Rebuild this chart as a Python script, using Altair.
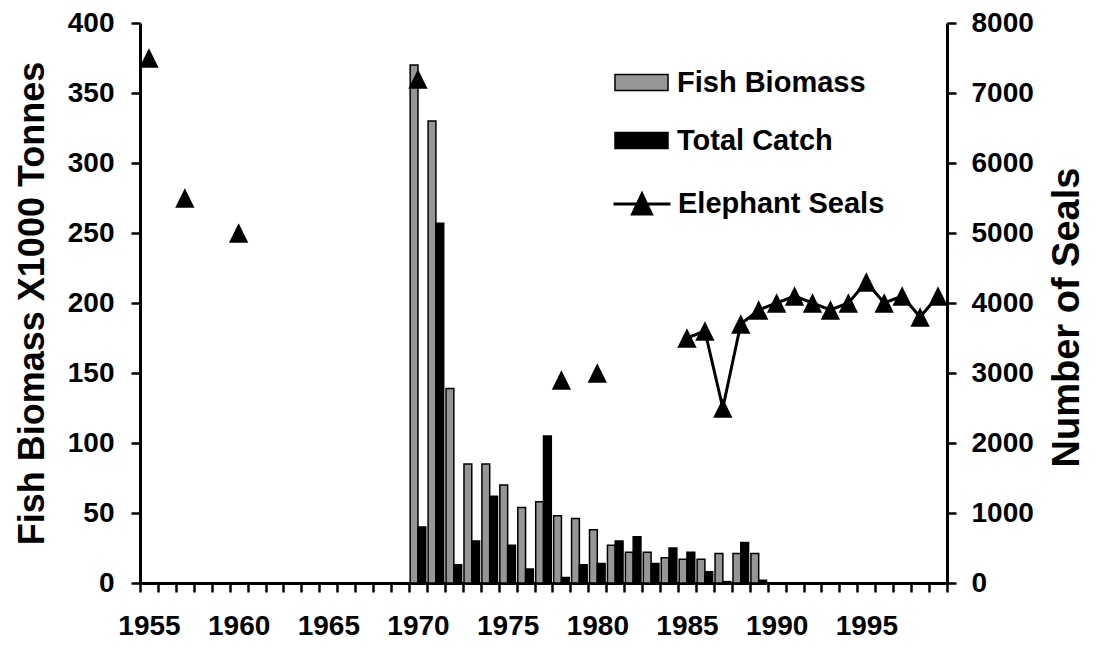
import altair as alt
import pandas as pd

# ---- data ----
all_years = list(range(1955, 2000))

fish_years = list(range(1970, 1990))
fish_biomass = [370, 330, 139, 85, 85, 70, 54, 58, 48, 46, 38, 27, 22, 22, 18, 17, 17, 21, 21, 21]
total_catch = [40, 257, 13, 30, 62, 27, 10, 105, 4, 13, 14, 30, 33, 14, 25, 22, 8, 1, 29, 2]

seal_years = [1955, 1957, 1960, 1970, 1978, 1980, 1985, 1986, 1987, 1988, 1989,
              1990, 1991, 1992, 1993, 1994, 1995, 1996, 1997, 1998, 1999]
seal_counts = [7500, 5500, 5000, 7200, 2900, 3000, 3500, 3600, 2500, 3700, 3900,
               4000, 4100, 4000, 3900, 4000, 4300, 4000, 4100, 3800, 4100]

left_ticks = [0, 50, 100, 150, 200, 250, 300, 350, 400]
right_ticks = [0, 1000, 2000, 3000, 4000, 5000, 6000, 7000, 8000]

bar_series = ["Fish Biomass", "Total Catch"]
bar_colors = ["#969696", "#000000"]
seal_series = ["Elephant Seals"]

fish_df = pd.DataFrame({"year": fish_years, "Fish Biomass": fish_biomass, "Total Catch": total_catch})
seal_df = pd.DataFrame({"year": seal_years, "seals": seal_counts})

FONT = "Liberation Sans"

x_axis = alt.Axis(
    title=None, labelAngle=0, tickBand="extent",
    labelExpr="datum.value % 5 == 0 ? datum.label : ''",
    labelFontSize=28, labelPadding=20, tickSize=9, tickWidth=2.5,
    domainWidth=3, domainColor="black", tickColor="black",
)
x_enc = alt.X("year:O", scale=alt.Scale(domain=all_years, paddingInner=0, paddingOuter=0), axis=x_axis)

bar_legend = alt.Legend(
    title=None, orient="none", legendX=472, legendY=30,
    symbolType="M-0.93,-0.28H0.93V0.28H-0.93Z", symbolSize=3249,
    symbolStrokeColor="black", symbolStrokeWidth=1.5, symbolOpacity=1,
    labelFontSize=29, labelFont=FONT, labelFontWeight="bold", labelLimit=400,
    labelColor="black", labelOffset=6, rowPadding=13, padding=0,
)
seal_legend = alt.Legend(
    title=None, orient="none", legendX=472, legendY=151,
    symbolType="M-1,0H1M0,-0.35L0.33,0.35L-0.33,0.35Z", symbolSize=3249,
    symbolStrokeColor="black", symbolFillColor="black", symbolStrokeWidth=3, symbolOpacity=1,
    labelFontSize=29, labelFont=FONT, labelFontWeight="bold", labelLimit=400,
    labelColor="black", labelOffset=6, padding=0,
)

bars = alt.Chart(fish_df).transform_fold(
    bar_series, as_=["series", "value"]
).mark_bar(stroke="black", strokeWidth=1.5).encode(
    x=x_enc,
    xOffset=alt.XOffset("series:N", scale=alt.Scale(domain=bar_series, paddingOuter=0.15, paddingInner=0)),
    y=alt.Y("value:Q", scale=alt.Scale(domain=[0, 400], nice=False),
            axis=alt.Axis(values=left_ticks, title="Fish Biomass X1000 Tonnes", titleFontSize=36,
                          titleAngle=270, titleBaseline="alphabetic", titleX=-97, titleY=280,
                          titleAlign="center",
                          labelFontSize=28, labelPadding=17, tickSize=9, tickWidth=2.5,
                          domainWidth=3, grid=False)),
    color=alt.Color("series:N", scale=alt.Scale(domain=bar_series, range=bar_colors), legend=bar_legend),
)

seal_base = alt.Chart(seal_df).transform_calculate(series="'Elephant Seals'")
seal_y = alt.Y("seals:Q", scale=alt.Scale(domain=[0, 8000], nice=False),
               axis=alt.Axis(orient="right", values=right_ticks, format="d", title="Number of Seals",
                             titleFontSize=38, titleAngle=270, titleBaseline="alphabetic",
                             titleX=131, titleY=294, titleAlign="center",
                             labelFontSize=28, labelPadding=15, tickSize=9, tickWidth=2.5,
                             domainWidth=3, grid=False))

seal_line = seal_base.transform_filter("datum.year >= 1985").mark_line(strokeWidth=3, color="black").encode(
    x=x_enc, y=seal_y,
)
seal_pts = seal_base.mark_point(shape="M0,-1L1,1L-1,1Z", size=372, filled=True, opacity=1).encode(
    x=x_enc, y=seal_y,
    color=alt.Color("series:N", scale=alt.Scale(domain=seal_series, range=["#000000"]), legend=seal_legend),
)

seals = alt.layer(seal_line, seal_pts)

chart = alt.layer(bars, seals).resolve_scale(y="independent", color="independent").properties(
    width=807, height=560,
    autosize="none",
    padding={"left": 132, "top": 15, "right": 139, "bottom": 56},
).configure_view(stroke=None).configure_axis(
    labelFont=FONT, titleFont=FONT, labelFontWeight="bold", titleFontWeight="bold",
    labelColor="black", titleColor="black", domainColor="black", tickColor="black",
)

chart.save("out.html", embed_options={"renderer": "svg", "actions": False})
